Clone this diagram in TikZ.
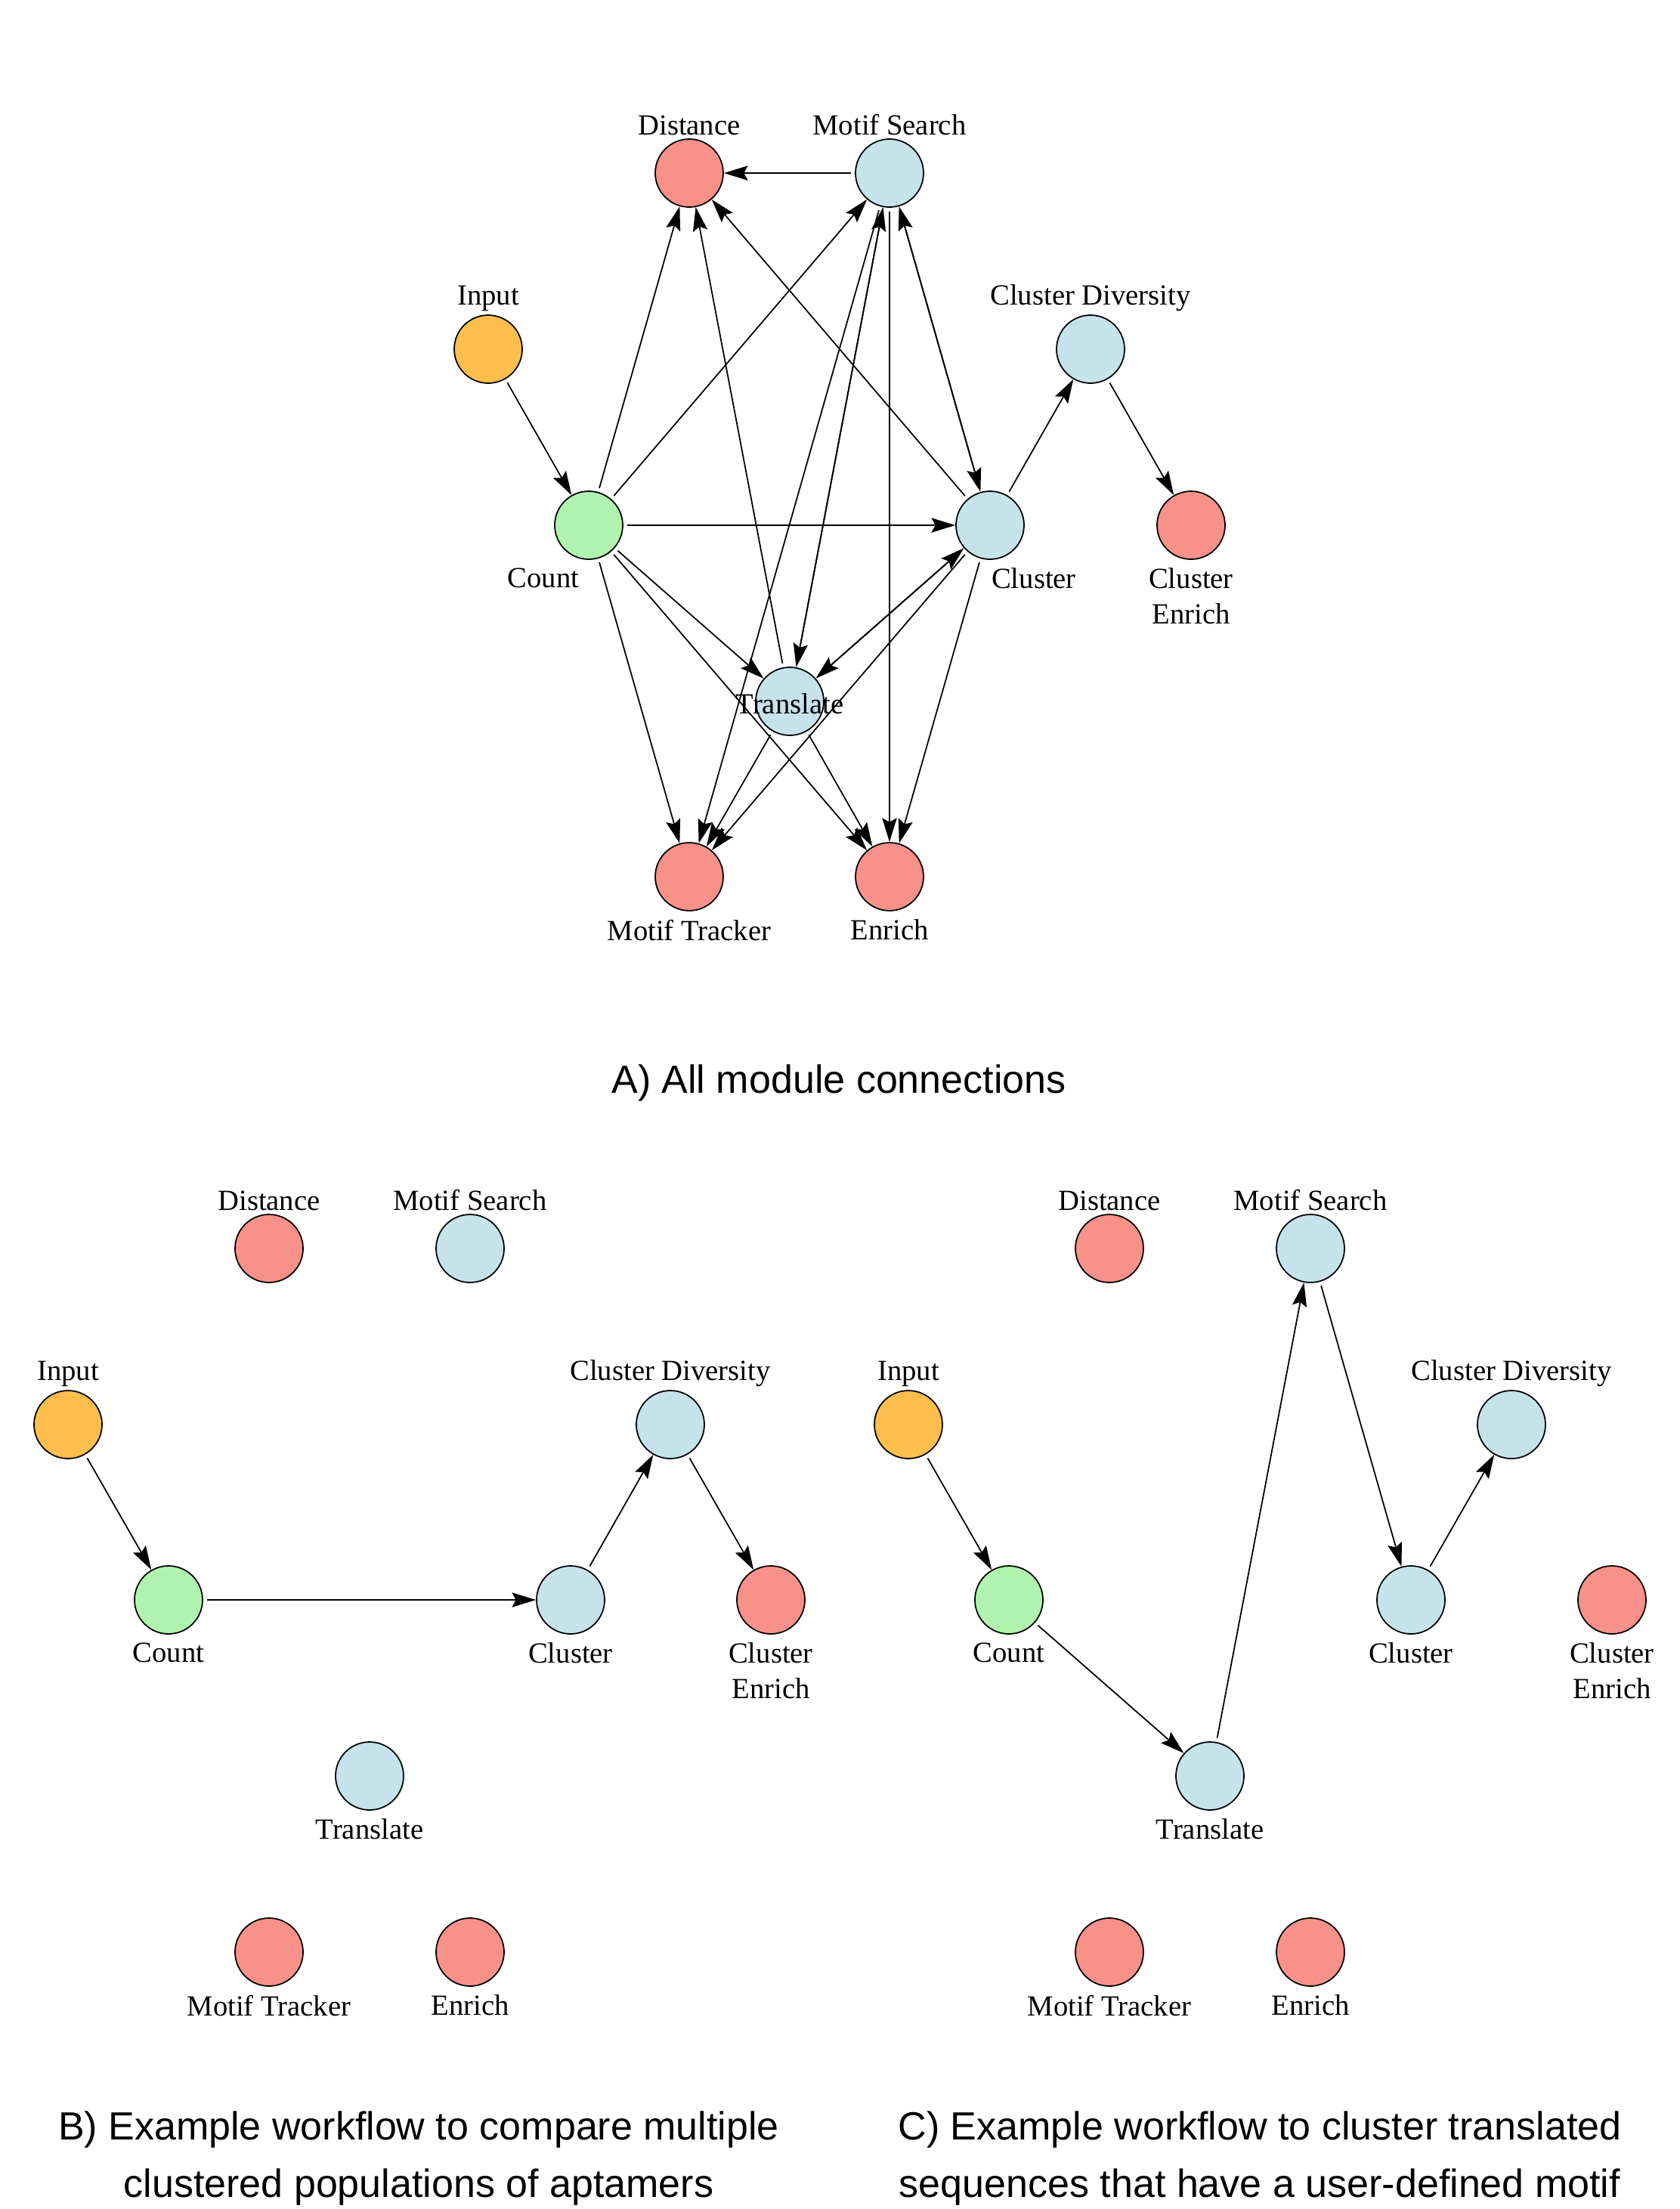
\documentclass[tikz,border=0pt]{standalone}
\usepackage{fontspec}
\setmainfont{Liberation Serif}
\newfontfamily\capfont{Liberation Sans}
\usetikzlibrary{arrows.meta}

\definecolor{modred}{HTML}{F7918A}
\definecolor{modblue}{HTML}{C6E3EC}
\definecolor{modgreen}{HTML}{B0F3AE}
\definecolor{modorange}{HTML}{FDBE4C}

\begin{document}
\begin{tikzpicture}[
    every node/.style={font=\fontsize{11}{13.3}\selectfont},
    mod/.style={circle, draw, line width=0.5pt, minimum size=0.9cm, inner sep=0pt},
    outmod/.style={mod, fill=modred},
    procmod/.style={mod, fill=modblue},
    inmod/.style={mod, fill=modorange},
    cntmod/.style={mod, fill=modgreen},
    every label/.style={inner sep=1pt, align=center, yshift=-1pt},
    label distance=1pt,
    conn/.style={draw, line width=0.5pt, -{Stealth[length=9pt,width=5.5pt,inset=1.5pt]}, shorten <=1.5pt},
    caption/.style={font=\capfont\fontsize{14.8}{21.9}\selectfont, align=center}
  ]

\useasboundingbox (0,0) rectangle (22.23,-29.23);

% A) all module connections
\node[outmod, label=above:Distance] (aDist) at (9.12,-2.29) {};
\node[procmod, label=above:Motif Search] (aMS) at (11.77,-2.29) {};
\node[inmod, label=above:Input] (aIn) at (6.46,-4.62) {};
\node[procmod, label=above:Cluster Diversity] (aCD) at (14.43,-4.62) {};
\node[cntmod, label={[xshift=-0.6cm]below:Count}] (aCount) at (7.79,-6.95) {};
\node[procmod, label={[xshift=0.58cm]below:Cluster}] (aClu) at (13.10,-6.95) {};
\node[outmod, label={below:Cluster\\Enrich}] (aCE) at (15.76,-6.95) {};
\node[procmod, label=center:Translate] (aTr) at (10.45,-9.28) {};
\node[outmod, label=below:Motif Tracker] (aMT) at (9.12,-11.60) {};
\node[outmod, label=below:Enrich] (aEn) at (11.77,-11.60) {};

\draw[conn] (aIn) -- (aCount);
\draw[conn] (aCount) -- (aDist);
\draw[conn] (aCount) -- (aMS);
\draw[conn] (aCount) -- (aClu);
\draw[conn] (aCount) -- (aTr);
\draw[conn] (aCount) -- (aMT);
\draw[conn] (aCount) -- (aEn);
\draw[conn] (aMS) -- (aDist);
\draw[conn] (aMS) -- (aTr);
\draw[conn] (aMS) -- (aMT);
\draw[conn] (aMS) -- (aEn);
\draw[conn] (aMS) -- (aClu);
\draw[conn] (aTr) -- (aDist);
\draw[conn] (aTr) -- (aMS);
\draw[conn] (aTr) -- (aClu);
\draw[conn] (aTr) -- (aMT);
\draw[conn] (aTr) -- (aEn);
\draw[conn] (aClu) -- (aDist);
\draw[conn] (aClu) -- (aMS);
\draw[conn] (aClu) -- (aTr);
\draw[conn] (aClu) -- (aCD);
\draw[conn] (aClu) -- (aMT);
\draw[conn] (aClu) -- (aEn);
\draw[conn] (aCD) -- (aCE);

\node[caption] (capA) at (11.10,-14.33) {A) All module connections};

% B) comparing clustered populations
\node[outmod, label=above:Distance] (bDist) at (3.56,-16.52) {};
\node[procmod, label=above:Motif Search] (bMS) at (6.22,-16.52) {};
\node[inmod, label=above:Input] (bIn) at (0.90,-18.85) {};
\node[procmod, label=above:Cluster Diversity] (bCD) at (8.87,-18.85) {};
\node[cntmod, label=below:Count] (bCount) at (2.23,-21.17) {};
\node[procmod, label=below:Cluster] (bClu) at (7.55,-21.17) {};
\node[outmod, label={below:Cluster\\Enrich}] (bCE) at (10.20,-21.17) {};
\node[procmod, label=below:Translate] (bTr) at (4.89,-23.50) {};
\node[outmod, label=below:Motif Tracker] (bMT) at (3.56,-25.83) {};
\node[outmod, label=below:Enrich] (bEn) at (6.22,-25.83) {};

\draw[conn] (bIn) -- (bCount);
\draw[conn] (bCount) -- (bClu);
\draw[conn] (bClu) -- (bCD);
\draw[conn] (bCD) -- (bCE);

\node[caption] (capB) at (5.54,-28.56) {B) Example workflow to compare multiple\\clustered populations of aptamers};

% C) clustering translated sequences with a motif
\node[outmod, label=above:Distance] (cDist) at (14.68,-16.52) {};
\node[procmod, label=above:Motif Search] (cMS) at (17.34,-16.52) {};
\node[inmod, label=above:Input] (cIn) at (12.02,-18.85) {};
\node[procmod, label=above:Cluster Diversity] (cCD) at (20.00,-18.85) {};
\node[cntmod, label=below:Count] (cCount) at (13.35,-21.17) {};
\node[procmod, label=below:Cluster] (cClu) at (18.67,-21.17) {};
\node[outmod, label={below:Cluster\\Enrich}] (cCE) at (21.33,-21.17) {};
\node[procmod, label=below:Translate] (cTr) at (16.01,-23.50) {};
\node[outmod, label=below:Motif Tracker] (cMT) at (14.68,-25.83) {};
\node[outmod, label=below:Enrich] (cEn) at (17.34,-25.83) {};

\draw[conn] (cIn) -- (cCount);
\draw[conn] (cCount) -- (cTr);
\draw[conn] (cTr) -- (cMS);
\draw[conn] (cMS) -- (cClu);
\draw[conn] (cClu) -- (cCD);

\node[caption] (capC) at (16.67,-28.56) {C) Example workflow to cluster translated\\sequences that have a user-defined motif};

\end{tikzpicture}
\end{document}
